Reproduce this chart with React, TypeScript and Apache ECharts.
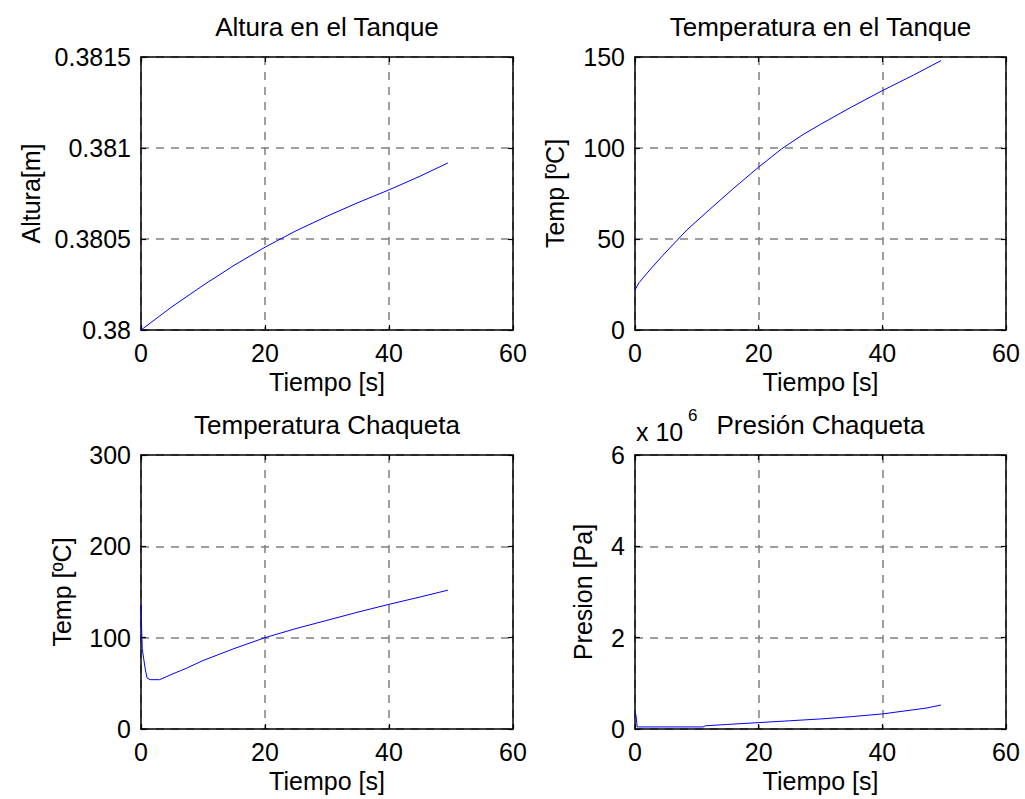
import React, { useEffect, useRef } from "react";
import * as echarts from "echarts";

// Altura en el Tanque
const timeAltura = [0, 5, 10, 15, 20, 25, 30, 35, 40, 45, 49.5];
const altura = [0.38, 0.380128, 0.380245, 0.380355, 0.380455, 0.380545, 0.380625, 0.3807, 0.38077, 0.380845, 0.380918];

// Temperatura en el Tanque
const timeTempTanque = [0, 0.65, 2.4, 4.5, 8.4, 12, 16, 20, 23.7, 27, 30, 35, 40, 45, 49.5];
const tempTanque = [22, 26, 33, 41, 55, 66, 78, 89.5, 99.5, 107, 113, 122.5, 131.5, 140, 148];

// Temperatura Chaqueta
const timeTempChaqueta = [0, 0.1, 0.2, 0.65, 0.97, 1.45, 3, 4, 5, 7.5, 10, 15, 20, 25, 30, 35, 40, 45, 49.5];
const tempChaqueta = [136, 110, 88, 67, 56, 54, 54, 57, 60, 67, 75, 88, 100, 110, 119, 128, 136.5, 144.5, 152];

// Presión Chaqueta
const timePresion = [0, 0.15, 0.35, 11, 11.4, 15, 20, 25, 30, 35, 40, 45, 47.2, 49.5];
const presion = [360000, 310000, 45000, 45000, 70000, 100000, 140000, 180000, 220000, 270000, 330000, 420000, 460000, 525000];

// Axis settings
const xTicks = { min: 0, max: 60, interval: 20 };
const titles = ["Altura en el Tanque", "Temperatura en el Tanque", "Temperatura Chaqueta", "Presión Chaqueta"];
const yNames = ["Altura[m]", "Temp [ºC]", "Temp [ºC]", "Presion [Pa]"];
const xName = "Tiempo [s]";
const yRanges = [
  { min: 0.38, max: 0.3815, interval: 0.0005 },
  { min: 0, max: 150, interval: 50 },
  { min: 0, max: 300, interval: 100 },
  { min: 0, max: 6000000, interval: 2000000 },
];

const FONT = "'Liberation Sans', Arial, Helvetica, sans-serif";
const FS = 25;

export default function App() {
  const ref = useRef<HTMLDivElement>(null);
  useEffect(() => {
    if (!ref.current) return;
    const chart = echarts.init(ref.current, undefined, { renderer: "svg" });
    const grids = [
      { left: 141, top: 57, width: 372, height: 273 },
      { left: 635, top: 57, width: 371, height: 273 },
      { left: 141, top: 455, width: 372, height: 274 },
      { left: 635, top: 455, width: 371, height: 274 },
    ];
    const yGaps = [98, 68, 67, 40];
    const seriesData = [
      timeAltura.map((t, i) => [t, altura[i]]),
      timeTempTanque.map((t, i) => [t, tempTanque[i]]),
      timeTempChaqueta.map((t, i) => [t, tempChaqueta[i]]),
      timePresion.map((t, i) => [t, presion[i]]),
    ];
    const axisLine = { show: true, onZero: false, lineStyle: { color: "#000", width: 1.5 } };
    const tick = { show: true, inside: true, length: 5, lineStyle: { color: "#000", width: 1.2 } };
    const split = { show: true, lineStyle: { color: "#808080", type: [8, 7] as any, width: 1.5 } };
    const label = { color: "#000", fontSize: FS, fontFamily: FONT };

    const xAxis: any[] = [];
    const yAxis: any[] = [];
    grids.forEach((_, g) => {
      xAxis.push({
        type: "value", gridIndex: g, position: "bottom", ...xTicks,
        axisLine, axisTick: tick, splitLine: split,
        axisLabel: { ...label, margin: 10 },
        name: xName, nameLocation: "middle", nameGap: 39,
        nameTextStyle: { color: "#000", fontSize: FS, fontFamily: FONT },
      });
      xAxis.push({
        type: "value", gridIndex: g, position: "top", ...xTicks,
        axisLine, axisTick: tick, splitLine: { show: false }, axisLabel: { show: false },
      });
      yAxis.push({
        type: "value", gridIndex: g, position: "left", ...yRanges[g],
        axisLine, axisTick: tick, splitLine: split,
        axisLabel: {
          ...label, margin: 10,
          formatter: g === 3 ? (v: number) => String(v / 1000000) : undefined,
        },
        name: yNames[g], nameLocation: "middle", nameGap: yGaps[g], nameRotate: 90,
        nameTextStyle: { color: "#000", fontSize: FS, fontFamily: FONT },
      });
      yAxis.push({
        type: "value", gridIndex: g, position: "right", ...yRanges[g],
        axisLine, axisTick: tick, splitLine: { show: false }, axisLabel: { show: false },
      });
    });

    chart.setOption({
      animation: false,
      backgroundColor: "#fff",
      title: grids.map((gr, g) => ({
        text: titles[g],
        left: gr.left + gr.width / 2,
        top: g < 2 ? 12 : 410,
        textAlign: "center",
        padding: 0,
        textStyle: { color: "#000", fontSize: 26, fontWeight: "normal", fontFamily: FONT, lineHeight: 30 },
      })),
      grid: grids,
      xAxis,
      yAxis,
      series: seriesData.map((d, g) => ({
        type: "line",
        xAxisIndex: g * 2,
        yAxisIndex: g * 2,
        data: d,
        showSymbol: false,
        symbol: "none",
        lineStyle: { color: "#0000ff", width: 1 },
        z: 1,
      })),
      graphic: [
        { type: "text", left: 636, top: 419, style: { text: "x 10", fontSize: FS, fontFamily: FONT, fill: "#000" } },
        { type: "text", left: 688, top: 407, style: { text: "6", fontSize: 17, fontFamily: FONT, fill: "#000" } },
      ],
    });
    return () => chart.dispose();
  }, []);
  return (
    <div
      ref={ref}
      style={{ position: "fixed", left: 0, top: 0, width: 1025, height: 799, background: "#fff" }}
    />
  );
}
